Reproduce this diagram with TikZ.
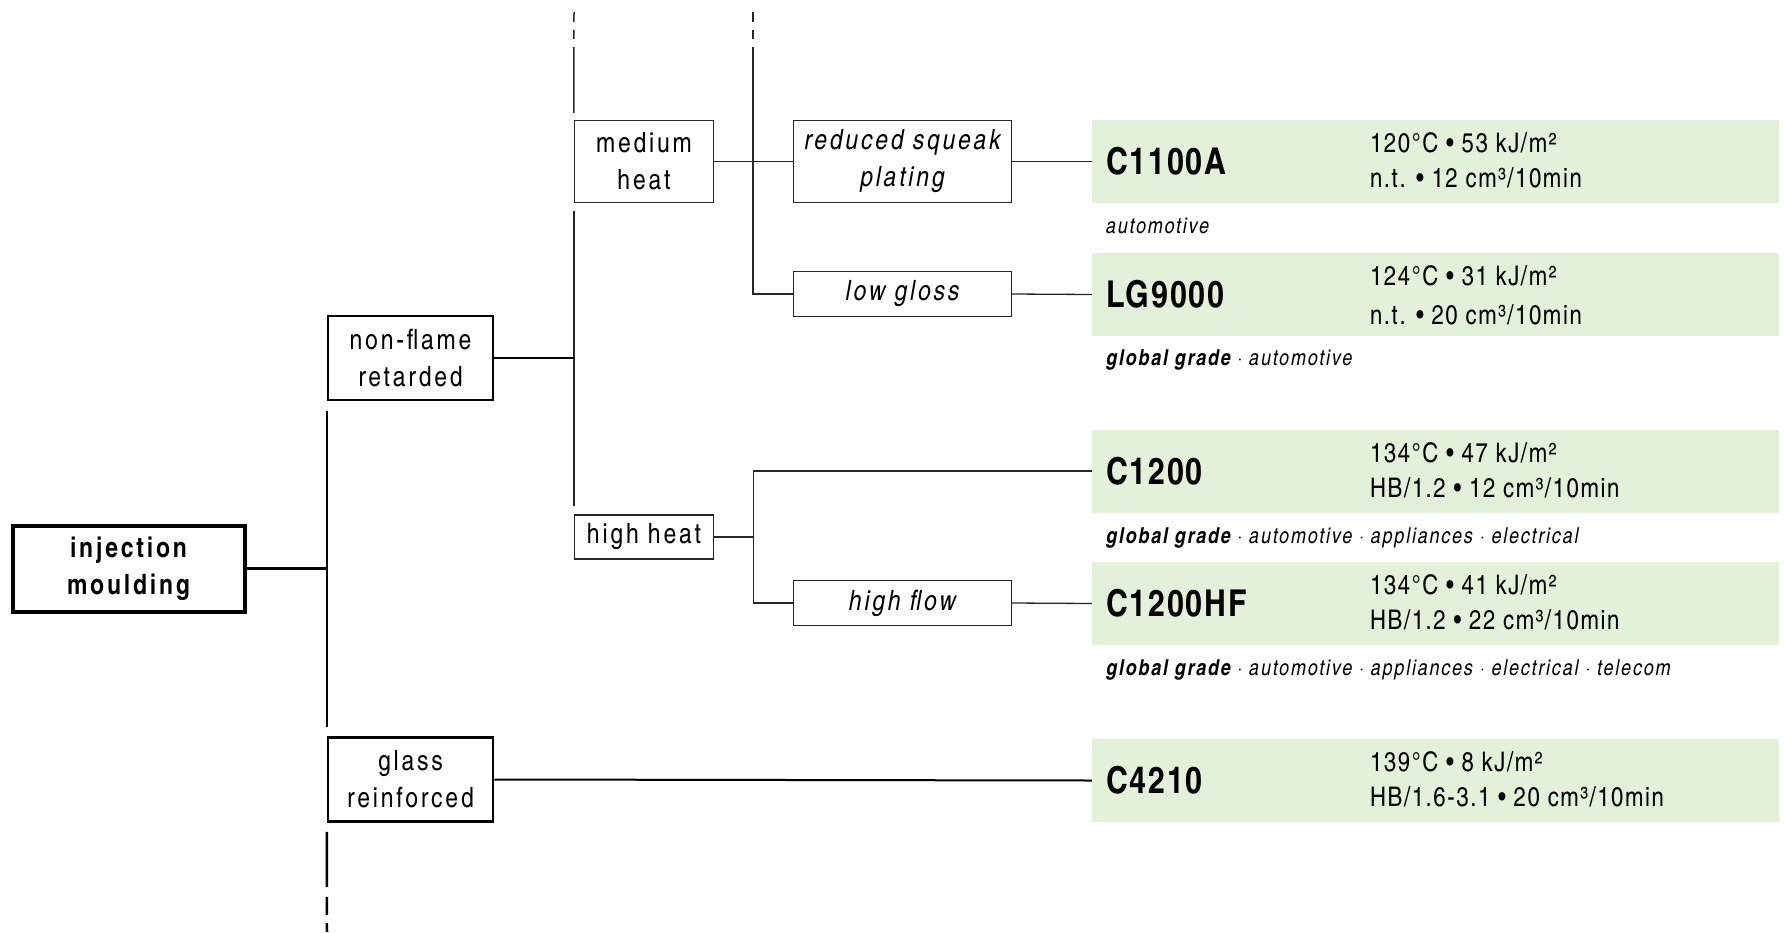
\documentclass[tikz,border=0pt]{standalone}
\usepackage{fontspec}
\usetikzlibrary{calc}
\defaultfontfeatures{Extension=.otf, UprightFont=*-regular, BoldFont=*-bold, ItalicFont=*-italic, BoldItalicFont=*-bolditalic}
\setmainfont{texgyreheroscn}
\newfontfamily\boxfamily{texgyreheroscn}[LetterSpace=10]
\newfontfamily\namefamily{texgyreheroscn}[LetterSpace=5]
\newfontfamily\specfamily{texgyreheroscn}[LetterSpace=6]
\newfontfamily\marketfamily{texgyreheroscn}[LetterSpace=8]
\newcommand\boxtext{\boxfamily\fontsize{28}{37}\selectfont}
\newcommand\gradetext{\specfamily\fontsize{27}{35}\selectfont}
\newcommand\markettext{\marketfamily\fontsize{22}{25}\selectfont\itshape}
\definecolor{gradefill}{RGB}{227,240,218}
\definecolor{linegray}{gray}{0.15}

\begin{document}
\begin{tikzpicture}[x=1pt, y=-1pt, linegray,
every node/.style={inner sep=0pt, text=black},
rootbox/.style={draw=black, line width=4pt, minimum width=232, minimum height=86, align=center, font=\boxtext\bfseries},
groupbox/.style={draw=black, line width=2.5pt, minimum width=165, minimum height=84, align=center, font=\boxtext},
heatbox/.style={draw, line width=1.5pt, minimum width=139, align=center, font=\boxtext},
typebox/.style={draw, line width=1.3pt, minimum width=218, align=center, font=\boxtext\itshape},
gradebar/.style={fill=gradefill, minimum width=687, minimum height=83},
gradename/.style={anchor=base west, font=\namefamily\fontsize{37}{40}\selectfont\bfseries},
gradespec/.style={anchor=base west, align=left, font=\gradetext},
gradeuse/.style={anchor=base west, font=\markettext},
thin/.style={line width=1.3pt},
topdash/.style={line width=1.5pt, dash pattern=on 66pt off 8pt on 9pt off 8pt on 10pt},
]
\useasboundingbox (0,0) rectangle (1788,932);

% selection boxes
\node[rootbox] (inj) at (128.5,568.5) {injection\\moulding};
\node[groupbox] (nfr) at (410.5,358) {non-flame\\retarded};
\node[groupbox] (glass) at (410.5,779.5) {glass\\reinforced};
\node[heatbox, minimum height=82] (medium) at (644,161.5) {medium\\heat};
\node[heatbox, minimum height=44] (highheat) at (644,537) {high heat};
\node[typebox, minimum height=82] (squeak) at (902.5,161.5) {reduced squeak\\plating};
\node[typebox, minimum height=45] (lowgloss) at (902.5,294) {low gloss};
\node[typebox, minimum height=45] (highflow) at (902.5,603) {high flow};

% grades
\node[gradebar] (c1100a) at (1435.5,161.5) {};
\node[gradebar] (lg9000) at (1435.5,294.5) {};
\node[gradebar] (c1200) at (1435.5,471) {};
\node[gradebar] (c1200hf) at (1435.5,603.5) {};
\node[gradebar] (c4210) at (1435.5,780.5) {};

\node[gradename] (n1100a) at ($(c1100a.west)+(14,13)$) {C1100A};
\node[gradespec] (s1100a) at ($(c1100a.north west)+(278,68)$) {120°C • 53 kJ/m²\\n.t. • 12 cm³/10min};
\node[gradeuse] (u1100a) at ($(c1100a.south west)+(14,30)$) {automotive};

\node[gradename] (n9000) at ($(lg9000.west)+(14,13)$) {LG9000};
\node[gradespec] (s9000) at ($(lg9000.north west)+(278,72)$) {124°C • 31 kJ/m²\\[4pt]n.t. • 20 cm³/10min};
\node[gradeuse] (u9000) at ($(lg9000.south west)+(14,29)$) {\textbf{global grade} · automotive};

\node[gradename] (n1200) at ($(c1200.west)+(14,13)$) {C1200};
\node[gradespec] (s1200) at ($(c1200.north west)+(278,68)$) {134°C • 47 kJ/m²\\HB/1.2 • 12 cm³/10min};
\node[gradeuse] (u1200) at ($(c1200.south west)+(14,31)$) {\textbf{global grade} · automotive · appliances · electrical};

\node[gradename] (n1200hf) at ($(c1200hf.west)+(14,13)$) {C1200HF};
\node[gradespec] (s1200hf) at ($(c1200hf.north west)+(278,68)$) {134°C • 41 kJ/m²\\HB/1.2 • 22 cm³/10min};
\node[gradeuse] (u1200hf) at ($(c1200hf.south west)+(14,30)$) {\textbf{global grade} · automotive · appliances · electrical · telecom};

\node[gradename] (n4210) at ($(c4210.west)+(14,13)$) {C4210};
\node[gradespec] (s4210) at ($(c4210.north west)+(278,68)$) {139°C • 8 kJ/m²\\HB/1.6-3.1 • 20 cm³/10min};

% open ends
\coordinate (endheat) at (574,12);
\coordinate (endtype) at (753,12);
\coordinate (endgroup) at (327,932);

% connectors
\draw[black, line width=3.5pt] (inj.east) -- (inj.east -| nfr.west);
\draw[black, line width=2.5pt] ($(nfr.south west)+(0,10)$) -- ($(glass.north west)+(0,-9)$);
\draw[black, line width=2.5pt, dash pattern=on 55pt off 10pt on 18pt off 8pt on 20pt] ($(glass.south west)+(0,9)$) -- (endgroup);
\draw[black, line width=2.2pt] (nfr.east) -- (nfr.east -| medium.west);
\draw[black, line width=2pt] (glass.east) -- (c4210.west);
\draw[line width=1.5pt] ($(medium.south west)+(0,8)$) -- ($(highheat.north west)+(0,-8)$);
\draw[topdash] ($(medium.north west)+(0,-7)$) -- (endheat);
\draw[thin] (medium.east) -- (squeak.west);
\draw[thin, dash pattern=on 10pt off 8pt on 9pt off 8pt on 500pt] (endtype) |- (lowgloss.west);
\draw[thin] (squeak.east) -- (c1100a.west);
\draw[thin] (lowgloss.east) -- (lg9000.west);
\draw[thin] (highheat.east) -- ++(39,0) coordinate (hsplit);
\draw[thin] (hsplit) |- (c1200.west);
\draw[thin] (hsplit) |- (highflow.west);
\draw[thin] (highflow.east) -- (c1200hf.west);
\end{tikzpicture}
\end{document}
